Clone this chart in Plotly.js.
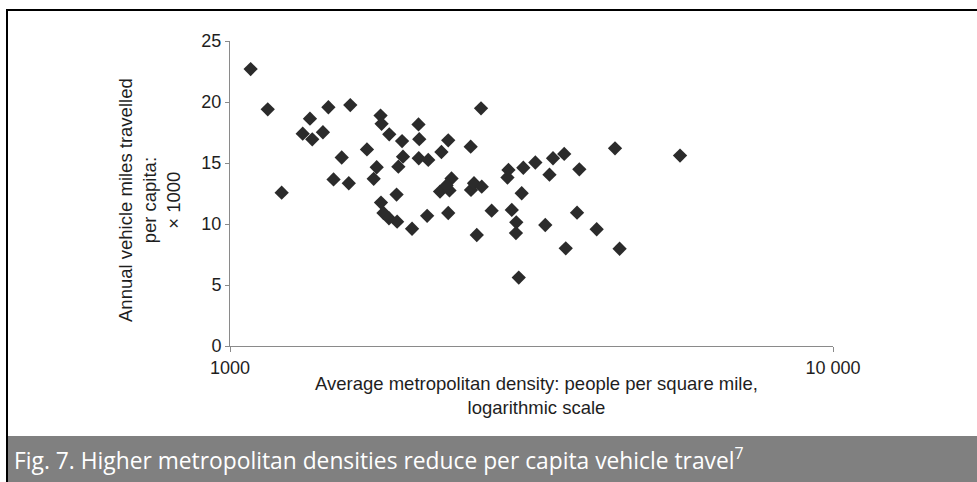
<!DOCTYPE html>
<html>
<head>
<meta charset="utf-8">
<script src="https://cdn.plot.ly/plotly-3.0.1.min.js"></script>
<style>
  html, body { margin: 0; padding: 0; background: #ffffff; }
  #chart { width: 977px; height: 482px; }
</style>
</head>
<body>
<div id="chart"></div>
<script>
// Average metropolitan density (people per square mile)
const density = [
  1082, 1155, 1357, 1456, 1583, 1320, 1369, 1426, 1218, 1532,
  1485, 1574, 1687, 1751, 1731, 1777, 1784, 1837, 1929, 2054,
  2060, 2608, 2301, 2242, 2507, 1936, 1902, 2056, 2132, 1889,
  1780, 1797, 1835, 1893, 2004, 2123, 2301, 2230, 2312, 2330,
  2286, 2510, 2539, 2615, 2566, 2716, 2896, 2885, 3065, 3209,
  3433, 3583, 3387, 3796, 4350, 5576, 3046, 2933, 2984, 2980,
  3012, 3333, 3763, 4056, 3604, 4427
];
// Annual vehicle miles travelled per capita (x 1000)
const vmt = [
  22.70, 19.40, 18.63, 19.57, 19.75, 17.40, 16.94, 17.52, 12.57, 15.45,
  13.65, 13.34, 16.11, 14.65, 13.70, 18.89, 18.21, 17.35, 16.80, 18.16,
  16.95, 19.48, 16.86, 15.90, 16.34, 15.52, 14.70, 15.39, 15.25, 12.41,
  11.76, 10.90, 10.47, 10.19, 9.61, 10.67, 10.90, 12.66, 12.75, 13.73,
  13.16, 12.79, 13.34, 13.06, 9.10, 11.09, 14.43, 13.81, 14.61, 15.04,
  15.39, 15.74, 14.04, 14.48, 16.20, 15.61, 12.52, 11.15, 10.14, 9.26,
  5.61, 9.92, 10.93, 9.57, 8.01, 7.97
];

const xTickVals = [1000, 10000];
const xTickText = ['1000', '10 000'];
const yTickVals = [0, 5, 10, 15, 20, 25];

const xTitle = 'Average metropolitan density: people per square mile,<br>logarithmic scale';
const yTitle = 'Annual vehicle miles travelled<br>per capita:<br>× 1000';
const caption = 'Fig. 7. Higher metropolitan densities reduce per capita vehicle travel<sup>7</sup>';

const W = 977, H = 482;
const L = 230, R = 144, T = 41, B = 136;
const pw = W - L - R, ph = H - T - B;
const px = v => (v - L) / pw;          // pixel x -> paper x
const py = v => (H - B - v) / ph;      // pixel y -> paper y

const trace = {
  type: 'scatter',
  mode: 'markers',
  x: density,
  y: vmt,
  marker: { symbol: 'diamond', size: 11, color: '#2b2b2b', line: { width: 0 } },
  hoverinfo: 'x+y'
};

const sans = 'Liberation Sans, Arial, sans-serif';
const axisFont = { family: sans, size: 18, color: '#1e1e1e' };

const layout = {
  width: W, height: H,
  margin: { l: L, r: R, t: T, b: B, pad: 0 },
  paper_bgcolor: '#ffffff',
  plot_bgcolor: '#ffffff',
  showlegend: false,
  xaxis: {
    type: 'log',
    range: [3, 4],
    tickvals: xTickVals,
    ticktext: xTickText,
    ticks: 'outside', ticklen: 5, tickcolor: '#8a8a8a', tickwidth: 1,
    showline: true, linecolor: '#8a8a8a', linewidth: 1,
    showgrid: false, zeroline: false,
    tickfont: axisFont,
    fixedrange: true
  },
  yaxis: {
    range: [0, 25],
    tickvals: yTickVals,
    ticks: 'outside', ticklen: 4, tickcolor: '#8a8a8a', tickwidth: 1,
    showline: true, linecolor: '#8a8a8a', linewidth: 1,
    showgrid: false, zeroline: false,
    tickfont: axisFont,
    fixedrange: true
  },
  shapes: [
    { type: 'rect', xref: 'paper', yref: 'paper',
      x0: px(8), x1: px(980), y0: py(485), y1: py(436),
      fillcolor: '#808080', line: { width: 0 }, layer: 'below' },
    { type: 'line', xref: 'paper', yref: 'paper',
      x0: px(6), x1: px(980), y0: py(10), y1: py(10),
      line: { color: '#000000', width: 2 } },
    { type: 'line', xref: 'paper', yref: 'paper',
      x0: px(7), x1: px(7), y0: py(9), y1: py(485),
      line: { color: '#000000', width: 2 } }
  ],
  annotations: [
    { xref: 'paper', yref: 'paper', x: px(149), y: py(200),
      xanchor: 'center', yanchor: 'middle', textangle: -90,
      text: yTitle, showarrow: false, align: 'center',
      font: { family: sans, size: 18.5, color: '#1e1e1e' } },
    { xref: 'paper', yref: 'paper', x: px(536), y: py(395),
      xanchor: 'center', yanchor: 'middle',
      text: xTitle, showarrow: false, align: 'center',
      font: { family: sans, size: 18.5, color: '#1e1e1e' } },
    { xref: 'paper', yref: 'paper', x: px(12), y: py(459),
      xanchor: 'left', yanchor: 'middle',
      text: caption, showarrow: false, align: 'left',
      font: { family: 'Open Sans, sans-serif', size: 22.8, color: '#ffffff' } }
  ]
};

Plotly.newPlot('chart', [trace], layout, { displayModeBar: false, staticPlot: true });
</script>
</body>
</html>
